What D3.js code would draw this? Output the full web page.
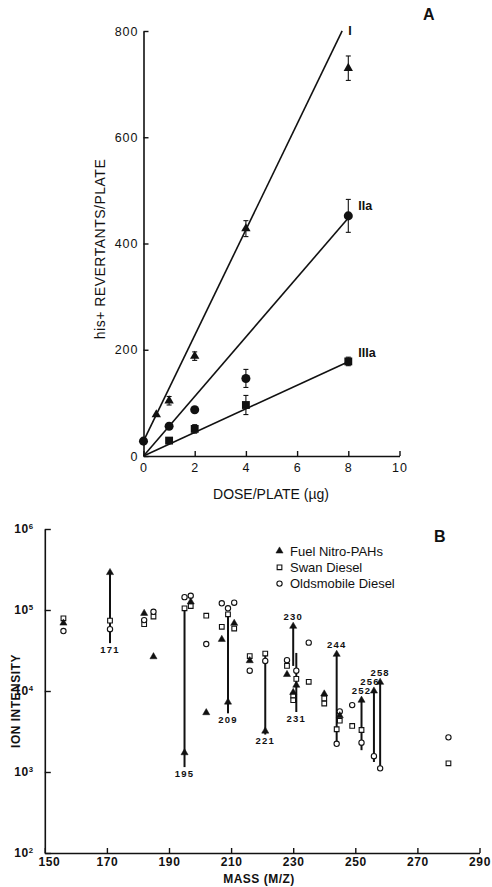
<!DOCTYPE html>
<html>
<head>
<meta charset="utf-8">
<script src="https://cdn.jsdelivr.net/npm/d3@7"></script>
<style>
  body { margin: 0; background: #fff; }
  svg { display: block; }
  text { font-family: "Liberation Sans", Arial, Helvetica, sans-serif; fill: #111; }
</style>
</head>
<body>
<svg id="chart" width="492" height="887"></svg>
<script>
// ---------- Panel A: his+ revertants vs dose ----------
const doseTicks = [0, 2, 4, 6, 8, 10];
const revTicks = [0, 200, 400, 600, 800];

const doseI = [0.5, 1, 2, 4, 8];
const revI = [78, 104, 188, 428, 730];
const errI = [0, 8, 8, 15, 23];

const doseIIa = [0, 1, 2, 4, 8];
const revIIa = [28, 56, 87, 146, 452];
const errIIa = [3, 4, 5, 17, 31];

const doseIIIa = [1, 2, 4, 8];
const revIIIa = [29, 51, 96, 178];
const errIIIa = [4, 8, 18, 8];

// regression lines: name, intercept, slope, last dose drawn
const fitNames = ["I", "IIa", "IIIa"];
const fitIntercept = [28, 0, 0];
const fitSlope = [99.5, 56, 22.2];
const fitEnd = [7.76, 8, 8];

// ---------- Panel B: ion intensity vs mass ----------
const massTicks = [150, 170, 190, 210, 230, 250, 270, 290];
const intensityTicks = [1e2, 1e3, 1e4, 1e5, 1e6];

const fuelMass = [156, 171, 182, 185, 195, 197, 202, 207, 209, 211, 216, 221, 228, 230, 230, 231, 240, 244, 245, 252, 256, 258];
const fuelVal  = [6.9e4, 2.9e5, 9.1e4, 2.65e4, 1.73e3, 1.26e5, 5.4e3, 4.34e4, 7.3e3, 6.85e4, 2.37e4, 3.2e3, 1.6e4, 6.3e4, 9.6e3, 1.18e4, 9.2e3, 2.84e4, 4.95e3, 7.7e3, 1.0e4, 1.28e4];

const swanMass = [156, 171, 182, 185, 195, 197, 202, 207, 209, 211, 216, 221, 228, 230, 230, 231, 235, 240, 240, 244, 245, 249, 252, 280];
const swanVal  = [7.9e4, 7.4e4, 6.7e4, 8.3e4, 1.05e5, 1.12e5, 8.5e4, 6.2e4, 8.85e4, 5.9e4, 2.7e4, 2.9e4, 2.04e4, 8.75e3, 7.7e3, 1.41e4, 1.3e4, 8.1e3, 7.0e3, 3.37e3, 4.3e3, 3.7e3, 3.3e3, 1.28e3];

const oldsMass = [156, 171, 182, 185, 195, 197, 202, 207, 209, 211, 216, 221, 228, 231, 235, 244, 245, 249, 252, 256, 258, 280];
const oldsVal  = [5.5e4, 5.8e4, 7.5e4, 9.5e4, 1.44e5, 1.5e5, 3.8e4, 1.21e5, 1.05e5, 1.23e5, 1.78e4, 2.35e4, 2.4e4, 1.78e4, 3.95e4, 2.23e3, 5.6e3, 6.7e3, 2.3e3, 1.57e3, 1.11e3, 2.68e3];

// labelled nitro-PAH masses: vertical stem from low to high intensity
const stemMass  = [171, 195, 209, 221, 230, 231, 244, 252, 256, 258];
const stemLow   = [3.9e4, 1.15e3, 5.3e3, 2.9e3, 2.04e4, 5.5e3, 2.23e3, 1.86e3, 1.33e3, 1.11e3];
const stemHigh  = [2.9e5, 1.05e5, 8.85e4, 2.9e4, 6.3e4, 2.95e4, 2.84e4, 7.7e3, 1.0e4, 1.28e4];
const stemSide  = ["below", "below", "below", "below", "above", "below", "above", "above", "above", "above"];

const legendNames = ["Fuel Nitro-PAHs", "Swan Diesel", "Oldsmobile Diesel"];

const svg = d3.select("#chart");
const ink = "#111";

// ================= Panel A =================
const xA = d3.scaleLinear().domain([0, 10]).range([143.5, 399.5]);
const yA = d3.scaleLinear().domain([0, 800]).range([456, 31]);
const gA = svg.append("g");

const axA_x = gA.append("g")
  .attr("transform", `translate(0,${yA(0)})`)
  .call(d3.axisBottom(xA).tickValues(doseTicks).tickSizeInner(-5).tickSizeOuter(0).tickPadding(7));
const axA_y = gA.append("g")
  .attr("transform", `translate(${xA(0)},0)`)
  .call(d3.axisLeft(yA).tickValues(revTicks).tickSizeInner(-5).tickSizeOuter(0).tickPadding(5));
[axA_x, axA_y].forEach(ax => {
  ax.select(".domain").attr("stroke", ink).attr("stroke-width", 1.6);
  ax.selectAll(".tick line").attr("stroke", ink).attr("stroke-width", 1.4);
  ax.selectAll(".tick text").attr("font-size", 12.5).attr("fill", ink)
    .attr("font-family", "Liberation Sans, Arial, sans-serif").style("letter-spacing", "1px");
});

// regression lines
fitNames.forEach((n, i) => {
  gA.append("line")
    .attr("x1", xA(0)).attr("y1", yA(fitIntercept[i]))
    .attr("x2", xA(fitEnd[i])).attr("y2", yA(fitIntercept[i] + fitSlope[i] * fitEnd[i]))
    .attr("stroke", ink).attr("stroke-width", 1.6);
});
const fitLabelOffset = [[6, 4], [10, -8], [10, -5]];
fitNames.forEach((n, i) => {
  gA.append("text")
    .attr("x", xA(fitEnd[i]) + fitLabelOffset[i][0])
    .attr("y", yA(fitIntercept[i] + fitSlope[i] * fitEnd[i]) + fitLabelOffset[i][1])
    .attr("font-size", 12.5).attr("font-weight", "bold").text(n);
});

// error bars + markers
function seriesA(doses, vals, errs, symbol, size) {
  doses.forEach((d, i) => {
    if (errs[i] > 0) {
      const x = xA(d), y1 = yA(vals[i] - errs[i]), y2 = yA(vals[i] + errs[i]);
      gA.append("line").attr("x1", x).attr("x2", x).attr("y1", y1).attr("y2", y2)
        .attr("stroke", ink).attr("stroke-width", 1.1);
      [y1, y2].forEach(y => gA.append("line").attr("x1", x - 2.5).attr("x2", x + 2.5)
        .attr("y1", y).attr("y2", y).attr("stroke", ink).attr("stroke-width", 1.1));
    }
    gA.append("path")
      .attr("d", d3.symbol().type(symbol).size(size)())
      .attr("transform", `translate(${xA(d)},${yA(vals[i])})`)
      .attr("fill", ink);
  });
}
seriesA(doseI, revI, errI, d3.symbolTriangle, 38);
seriesA(doseIIa, revIIa, errIIa, d3.symbolCircle, 64);
seriesA(doseIIIa, revIIIa, errIIIa, d3.symbolSquare, 62);

gA.append("text")
  .attr("transform", `translate(105,249) rotate(-90)`)
  .attr("text-anchor", "middle").attr("font-size", 14).style("letter-spacing", "0.5px")
  .text("his+ REVERTANTS/PLATE");
gA.append("text")
  .attr("x", 271).attr("y", 499).attr("text-anchor", "middle").attr("font-size", 14)
  .text("DOSE/PLATE (\u00b5g)");
gA.append("text")
  .attr("x", 423).attr("y", 20).attr("font-size", 16).attr("font-weight", "bold")
  .attr("font-family", "Liberation Serif, Times New Roman, serif").text("A");

// ================= Panel B =================
const xB = d3.scaleLinear().domain([150, 290]).range([44.8, 479.5]);
const yB = d3.scaleLog().domain([1e2, 1e6]).range([853, 529]);
const gB = svg.append("g");

const axB_x = gB.append("g")
  .attr("transform", `translate(0,${yB(1e2)})`)
  .call(d3.axisBottom(xB).tickValues(massTicks).tickFormat(d3.format("d"))
    .tickSizeInner(-5).tickSizeOuter(0).tickPadding(4));
const axB_y = gB.append("g")
  .attr("transform", `translate(${xB(150)},0)`)
  .call(d3.axisLeft(yB).tickValues(intensityTicks).tickFormat(() => "10")
    .tickSizeInner(-6).tickSizeOuter(0).tickPadding(11));
[axB_x, axB_y].forEach(ax => {
  ax.select(".domain").attr("stroke", ink).attr("stroke-width", 1.6);
  ax.selectAll(".tick line").attr("stroke", ink).attr("stroke-width", 1.4);
  ax.selectAll(".tick text").attr("font-size", 12).attr("font-weight", "bold").attr("fill", ink)
    .attr("font-family", "Liberation Sans, Arial, sans-serif").style("letter-spacing", "0.6px");
});
axB_x.selectAll(".tick text").filter(d => d === 150).attr("dx", "4");
axB_y.selectAll(".tick text").each(function (d) {
  d3.select(this).append("tspan")
    .attr("dy", "-0.5em").attr("font-size", "0.65em")
    .text(Math.round(Math.log10(d)));
});

// stems for labelled masses
stemMass.forEach((m, i) => {
  gB.append("line")
    .attr("x1", xB(m)).attr("x2", xB(m))
    .attr("y1", yB(stemLow[i])).attr("y2", yB(stemHigh[i]))
    .attr("stroke", ink).attr("stroke-width", 2);
});
const stemLabelDx = {256: -4};
stemMass.forEach((m, i) => {
  const y = stemSide[i] === "below" ? yB(stemLow[i]) + 9.5 : yB(stemHigh[i]) - 6.5;
  gB.append("text")
    .attr("x", xB(m) + (stemLabelDx[m] || 0)).attr("y", y)
    .attr("text-anchor", "middle").attr("font-size", 9.5).attr("font-weight", "bold")
    .style("letter-spacing", "1.2px").text(m);
});

// markers
function seriesB(mass, vals, symbol, size, filled) {
  mass.forEach((m, i) => {
    gB.append("path")
      .attr("d", d3.symbol().type(symbol).size(size)())
      .attr("transform", `translate(${xB(m)},${yB(vals[i])})`)
      .attr("fill", filled ? ink : "#fff")
      .attr("stroke", ink).attr("stroke-width", filled ? 0.5 : 1.1);
  });
}
seriesB(swanMass, swanVal, d3.symbolSquare, 22, false);
seriesB(oldsMass, oldsVal, d3.symbolCircle, 22, false);
seriesB(fuelMass, fuelVal, d3.symbolTriangle, 22, true);

// legend
const legendSymbols = [d3.symbolTriangle, d3.symbolSquare, d3.symbolCircle];
legendNames.forEach((n, i) => {
  const y = 551 + i * 16.3;
  gB.append("path")
    .attr("d", d3.symbol().type(legendSymbols[i]).size(22)())
    .attr("transform", `translate(279.5,${y})`)
    .attr("fill", i === 0 ? ink : "#fff").attr("stroke", ink).attr("stroke-width", i === 0 ? 0.5 : 1.1);
  gB.append("text").attr("x", 290).attr("y", y + 4.5).attr("font-size", 13).text(n);
});

gB.append("text")
  .attr("transform", `translate(20,701) rotate(-90)`)
  .attr("text-anchor", "middle").attr("font-size", 12).attr("font-weight", "bold")
  .style("letter-spacing", "0.5px").text("ION INTENSITY");
gB.append("text")
  .attr("x", 259).attr("y", 883).attr("text-anchor", "middle").attr("font-size", 12)
  .attr("font-weight", "bold").style("letter-spacing", "0.5px").text("MASS (M/Z)");
gB.append("text")
  .attr("x", 434).attr("y", 542).attr("font-size", 16).attr("font-weight", "bold")
  .attr("font-family", "Liberation Serif, Times New Roman, serif").text("B");
</script>
</body>
</html>
